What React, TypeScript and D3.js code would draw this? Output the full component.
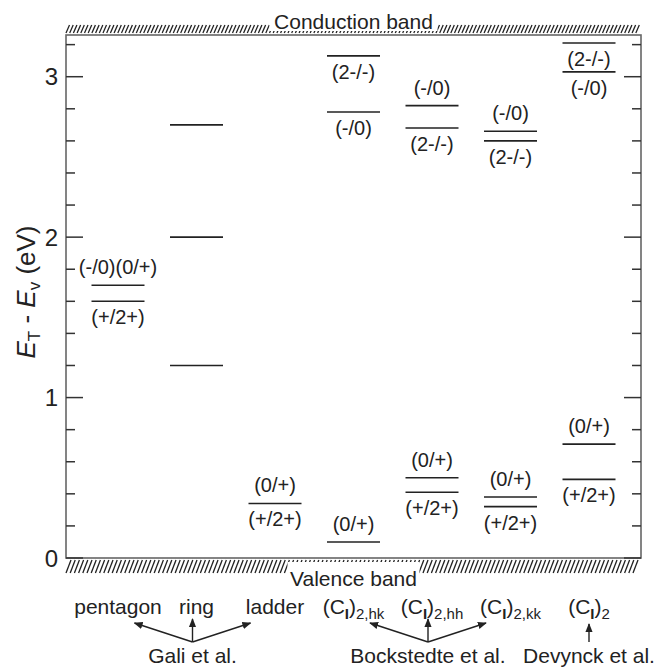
import React from "react";
import * as d3 from "d3";

const columns = ["pentagon", "ring", "ladder", "hk", "hh", "kk", "dev"];

const levelColumn = ["pentagon", "pentagon", "ring", "ring", "ring", "ladder", "hk", "hk", "hk", "hh", "hh", "hh", "hh", "kk", "kk", "kk", "kk", "dev", "dev", "dev", "dev"];
const levelEnergy = [1.70, 1.60, 2.70, 2.00, 1.20, 0.34, 3.13, 2.78, 0.10, 2.82, 2.68, 0.50, 0.41, 2.66, 2.60, 0.38, 0.32, 3.21, 3.03, 0.71, 0.49];

const labelColumn = ["pentagon", "pentagon", "ladder", "ladder", "hk", "hk", "hk", "hh", "hh", "hh", "hh", "kk", "kk", "kk", "kk", "dev", "dev", "dev", "dev"];
const labelEnergy = [1.70, 1.60, 0.34, 0.34, 3.13, 2.78, 0.10, 2.82, 2.68, 0.50, 0.41, 2.66, 2.60, 0.38, 0.32, 3.21, 3.03, 0.71, 0.49];
const labelText = ["(-/0)(0/+)", "(+/2+)", "(0/+)", "(+/2+)", "(2-/-)", "(-/0)", "(0/+)", "(-/0)", "(2-/-)", "(0/+)", "(+/2+)", "(-/0)", "(2-/-)", "(0/+)", "(+/2+)", "(2-/-)", "(-/0)", "(0/+)", "(+/2+)"];
const labelSide = ["above", "below", "above", "below", "below", "below", "above", "above", "below", "above", "below", "above", "below", "above", "below", "below", "below", "above", "below"];

const majorTicks = [0, 1, 2, 3];
const minorTicks = [0.2, 0.4, 0.6, 0.8, 1.2, 1.4, 1.6, 1.8, 2.2, 2.4, 2.6, 2.8, 3.2];

const columnNames = ["pentagon", "ring", "ladder", "(C|I|)|2,hk", "(C|I|)|2,hh", "(C|I|)|2,kk", "(C|I|)|2"];

const groupNames = ["Gali et al.", "Bockstedte et al.", "Devynck et al."];
const groupMembers = [["pentagon", "ring", "ladder"], ["hk", "hh", "kk"], ["dev"]];

const W = 654;
const H = 670;
const left = 66;
const right = 641;
const top = 35;
const bottom = 558;
const FONT = "'Liberation Sans', Arial, Helvetica, sans-serif";
const INK = "#222";

export default function App() {
  const y = d3.scaleLinear().domain([0, 3.26]).range([bottom, top]);
  const x = d3.scalePoint<string>().domain(columns).range([118, 589]);
  const halfW = 26.5;

  const topHatch = d3.range(left, right - 2, 3.7);
  const botHatch = d3.range(left, right - 4, 4.2);

  const midX = (left + right) / 2;

  const renderColumnName = (s: string, i: number) => {
    const cx = x(columns[i])!;
    if (s.indexOf("|") < 0) {
      return (
        <text key={i} x={cx} y={614} textAnchor="middle" fontSize={21} fill={INK}>
          {s}
        </text>
      );
    }
    const parts = s.split("|");
    return (
      <text key={i} x={cx} y={614} textAnchor="middle" fontSize={21} fill={INK}>
        <tspan>{parts[0]}</tspan>
        <tspan fontSize={15} fontWeight="bold" dy={5}>{parts[1]}</tspan>
        <tspan dy={-5}>{parts[2]}</tspan>
        <tspan fontSize={15} dy={5}>{parts[3]}</tspan>
      </text>
    );
  };

  return (
    <svg width={W} height={H} style={{ position: "absolute", left: 0, top: 0, fontFamily: FONT, background: "#fff" }}>
      <defs>
        <marker id="arr" viewBox="0 0 10 10" refX="9" refY="5" markerWidth="9" markerHeight="9" orient="auto" markerUnits="userSpaceOnUse">
          <path d="M0,1 L10,5 L0,9 Z" fill={INK} />
        </marker>
      </defs>

      {/* hatching */}
      <g stroke="#222" strokeWidth={1.3}>
        {topHatch.map((hx, i) => (
          <line key={"t" + i} x1={hx} y1={33} x2={hx + 3.5} y2={25} />
        ))}
        {botHatch.map((hx, i) => (
          <line key={"b" + i} x1={hx} y1={573} x2={hx + 5} y2={560} />
        ))}
      </g>
      <rect x={midX - 84} y={0} width={168} height={31} fill="#fff" />
      <rect x={midX - 66} y={562} width={132} height={30} fill="#fff" />
      <text x={midX} y={29} textAnchor="middle" fontSize={21} fill={INK}>Conduction band</text>
      <text x={midX} y={586} textAnchor="middle" fontSize={21} fill={INK}>Valence band</text>

      {/* frame */}
      <rect x={left} y={top} width={right - left} height={bottom - top} fill="none" stroke="#666" strokeWidth={1.6} />

      {/* ticks */}
      <g stroke="#333" strokeWidth={1.5}>
        {majorTicks.map((t) => (
          <g key={"M" + t}>
            <line x1={left} x2={left + 17} y1={y(t)} y2={y(t)} />
            <line x1={right} x2={right - 17} y1={y(t)} y2={y(t)} />
          </g>
        ))}
        {minorTicks.map((t) => (
          <g key={"m" + t}>
            <line x1={left} x2={left + 9} y1={y(t)} y2={y(t)} />
            <line x1={right} x2={right - 9} y1={y(t)} y2={y(t)} />
          </g>
        ))}
      </g>
      {majorTicks.map((t) => (
        <text key={"l" + t} x={58} y={y(t)} dy="0.36em" textAnchor="end" fontSize={24} fill={INK}>
          {t}
        </text>
      ))}

      {/* y label */}
      <text transform="translate(35,292) rotate(-90)" textAnchor="middle" fontSize={26} fill={INK} style={{ whiteSpace: "pre" }}>
        <tspan fontStyle="italic">E</tspan>
        <tspan fontSize={17} dy={5}>T</tspan>
        <tspan dy={-5}>{" - "}</tspan>
        <tspan fontStyle="italic">E</tspan>
        <tspan fontSize={17} dy={5}>v</tspan>
        <tspan dy={-5}>{" (eV)"}</tspan>
      </text>

      {/* levels */}
      <g stroke={INK} strokeWidth={1.6}>
        {levelEnergy.map((e, i) => {
          const cx = x(levelColumn[i])!;
          return <line key={"lv" + i} x1={cx - halfW} x2={cx + halfW} y1={y(e)} y2={y(e)} />;
        })}
      </g>
      {labelText.map((t, i) => {
        const cx = x(labelColumn[i])!;
        const ly = y(labelEnergy[i]) + (labelSide[i] === "above" ? -11 : 23);
        return (
          <text key={"lt" + i} x={cx} y={ly} textAnchor="middle" fontSize={20} fill={INK}>
            {t}
          </text>
        );
      })}

      {/* bottom labels */}
      {columnNames.map((s, i) => renderColumnName(s, i))}

      {groupMembers.map((mem, gi) => {
        const mid = mem.length === 3 ? x(mem[1])! - 4 : x(mem[0])!;
        const tips = mem.length === 3 ? [[mid - 58, 623], [mid, 619], [mid + 58, 623]] : [[mid, 624]];
        return (
          <g key={"g" + gi}>
            {tips.map((tp, k) => (
              <line key={k} x1={mid} y1={642} x2={tp[0]} y2={tp[1]} stroke={INK} strokeWidth={1.4} markerEnd="url(#arr)" />
            ))}
            <text x={mid} y={663} textAnchor="middle" fontSize={21} fill={INK}>
              {groupNames[gi]}
            </text>
          </g>
        );
      })}
    </svg>
  );
}
